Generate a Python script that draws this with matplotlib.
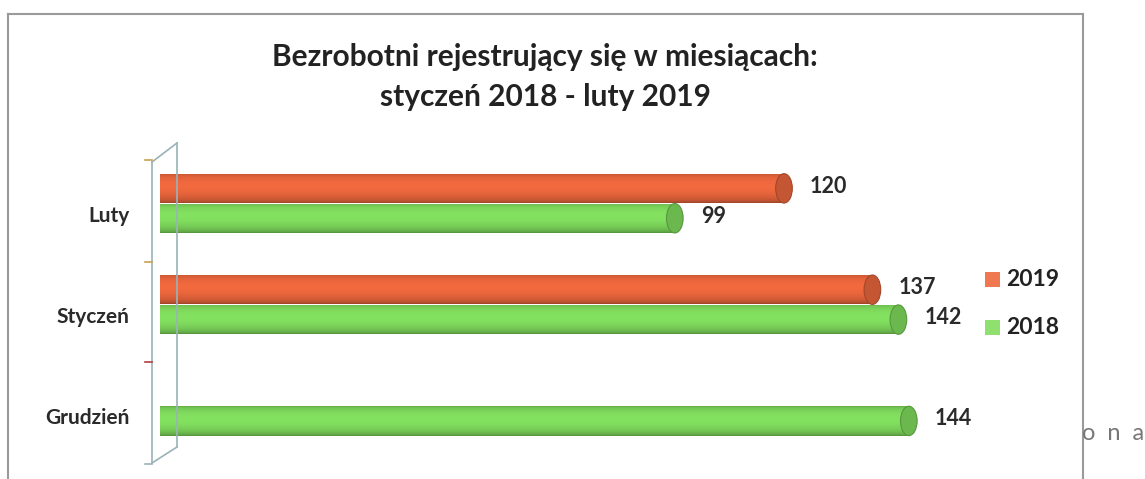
import matplotlib.pyplot as plt
import numpy as np
from matplotlib.patches import Ellipse, Rectangle
from matplotlib.lines import Line2D
from matplotlib.colors import to_rgb

plt.rcParams["font.family"] = ["Lato", "DejaVu Sans"]

# data
months = ["Grudzień", "Styczeń", "Luty"]
v2018 = [144, 142, 99]
v2019 = [None, 137, 120]

c2019 = "#e8653c"
c2018 = "#7ed85c"

W, H = 1145, 479
fig = plt.figure(figsize=(W / 100, H / 100), dpi=100)
ax = fig.add_axes([160 / W, (H - 464) / H, 832 / W, 304 / H])

bh = 0.29


def shade(col):
    r, g, b = to_rgb(col)
    t = np.linspace(0, 1, 64)
    # cylinder-like vertical profile: darker edges, light upper middle
    k = 0.78 + 0.32 * np.sin(np.pi * t) ** 0.5 - 0.12 * t
    img = np.stack([np.clip(np.array([r, g, b]) * kk, 0, 1) for kk in k])
    return img[:, None, :]


def cylinder(y, val, col):
    y0 = y - bh / 2
    rect = Rectangle((0, y0), val, bh, facecolor=col, edgecolor="none", zorder=2)
    ax.add_patch(rect)
    im = ax.imshow(shade(col), extent=(0, val, y0, y0 + bh), aspect="auto",
                   origin="upper", zorder=3, interpolation="bilinear")
    im.set_clip_path(rect)
    r, g, b = to_rgb(col)
    cap = Ellipse((val, y), 3.2, bh, facecolor=(r * 0.85, g * 0.85, b * 0.85),
                  edgecolor=(r * 0.7, g * 0.7, b * 0.7), lw=0.8, zorder=4)
    ax.add_patch(cap)
    ax.text(val + 5, y + 0.02, str(val), ha="left", va="center", fontsize=15.5,
            fontweight="bold", color="#2a2a2a", zorder=5)


for i, m in enumerate(months):
    if v2019[i] is not None:
        cylinder(i + 0.22, v2019[i], c2019)
    cylinder(i - 0.075, v2018[i], c2018)

ax.set_xlim(0, 160)
ax.set_ylim(-0.5, 2.5)
ax.set_yticks(np.arange(len(months)) - 0.03)
ax.set_yticklabels(months, fontsize=15, fontweight="bold", color="#2a2a2a")
ax.tick_params(axis="y", length=0, pad=22)
ax.set_xticks([])
for s in ax.spines.values():
    s.set_visible(False)
ax.patch.set_alpha(0)

# 3D wall outline (decoration)
wall = "#9ab3b8"
def fl(x0, y0, x1, y1, c=wall, lw=1.2):
    fig.add_artist(Line2D([x0 / W, x1 / W], [1 - y0 / H, 1 - y1 / H], color=c, lw=lw))

fl(152, 162, 152, 463)
fl(177, 143, 177, 447)
fl(152, 162, 177, 143)
fl(152, 463, 177, 447)
for yy, cc in zip([160, 262, 362, 464], ["#c8a050", "#c8a050", "#b04040", "#9ab3b8"]):
    fl(145, yy, 152, yy, c=cc, lw=1.2)

# outer frame
fl(8, 14, 1083, 14, c="#9a9a9a", lw=1.5)
fl(8, 14, 8, 479, c="#9a9a9a", lw=1.5)
fl(1083, 14, 1083, 479, c="#9a9a9a", lw=1.5)

fig.text(545 / W, 1 - 57 / H, "Bezrobotni rejestrujący się w miesiącach:",
         ha="center", va="center", fontsize=21.5, fontweight="bold", color="#222222")
fig.text(545 / W, 1 - 97 / H, "styczeń 2018 - luty 2019",
         ha="center", va="center", fontsize=21.5, fontweight="bold", color="#222222")

# legend
for yy, lab, col in [(280, "2019", "#f07850"), (328, "2018", "#90e070")]:
    fig.add_artist(Rectangle((985 / W, 1 - (yy + 7) / H), 15 / W, 15 / H,
                             transform=fig.transFigure, facecolor=col, edgecolor="none"))
    fig.text(1006 / W, 1 - yy / H, lab, ha="left", va="center", fontsize=16.5,
             fontweight="bold", color="#222222")

fig.text(1082 / W, 1 - 433 / H, "o  n  a", ha="left", va="center", fontsize=17,
         color="#777777")

fig.savefig("out.png", dpi=100)
